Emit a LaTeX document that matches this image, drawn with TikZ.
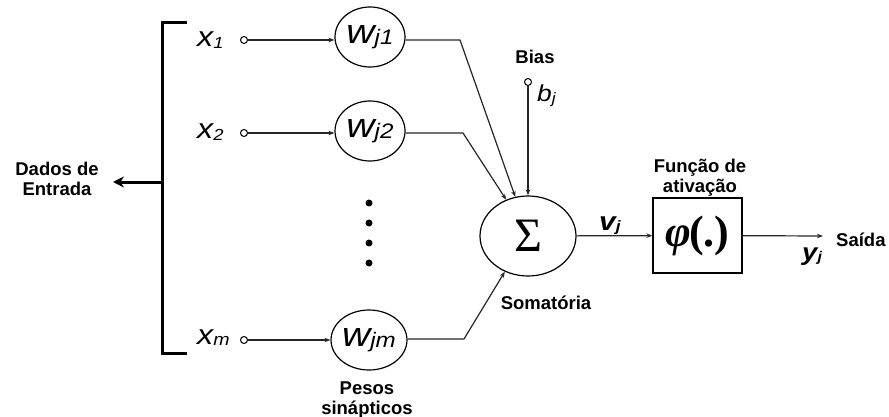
\documentclass[tikz,border=0pt]{standalone}
\usepackage{fontspec}
\setmainfont{Liberation Sans}
\newfontfamily\labfont[FakeStretch=1.15]{Liberation Sans}
\newfontfamily\serfont{Liberation Serif}
\usetikzlibrary{shapes.geometric,arrows.meta}
% main letter, subscript, main size, sub size
\newcommand\lbl[4]{{\fontsize{#3}{#3}\selectfont #1}\raisebox{-0.12em}{\fontsize{#4}{#4}\selectfont #2}}
\begin{document}
\begin{tikzpicture}[x=1pt,y=-1pt,
  thinl/.style={line width=1.2pt,draw=black!85},
  arr/.style={thinl,-{Stealth[length=6pt,width=4.5pt]}},
  wnode/.style={ellipse,draw,line width=1.2pt,minimum width=70pt,minimum height=60pt,inner sep=0pt,font=\labfont\itshape},
  pinc/.style={circle,draw,line width=1pt,minimum size=7pt,inner sep=0pt},
  xlab/.style={font=\labfont\itshape,inner sep=0pt},
  blab/.style={font=\fontsize{18.5}{20}\selectfont\bfseries,align=center,inner sep=0pt},
  dot/.style={circle,fill=black,minimum size=7pt,inner sep=0pt}]
\useasboundingbox (0,0) rectangle (889,417);
% bracket
\draw[line width=3pt] (187,23) -- (162,23) -- (162,353) -- (187,353);
\coordinate (bm) at (162,182);
\node[blab,anchor=base] (dados) at (57,195) {Dados de\\Entrada};
\coordinate (btip) at (113,182);
\draw[line width=3pt,-{Stealth[length=11pt,width=11pt]}] (bm) -- (btip);
% inputs
\node[xlab,anchor=base west] (x1) at (197,47) {\lbl{x}{1}{28}{16}};
\node[xlab,anchor=base west] (x2) at (197,139) {\lbl{x}{2}{28}{16}};
\node[xlab,anchor=base west] (xm) at (197,344) {\lbl{x}{m}{28}{17}};
\node[pinc] (c1) at (244,40) {};
\node[pinc] (c2) at (244,133) {};
\node[pinc] (cm) at (244,340) {};
\node[wnode] (w1) at (370,37) {\lbl{w}{j1}{34}{21}};
\node[wnode] (w2) at (370,131) {\lbl{w}{j2}{34}{21}};
\node[wnode] (wm) at (369,340) {\lbl{w}{jm}{34}{21}};
\draw[arr] (c1) -- (w1.west |- c1);
\draw[arr] (c2) -- (w2.west |- c2);
\draw[arr] (cm) -- (wm);
% dots
\node[dot] (d1) at (369,203) {};
\node[dot] (d2) at (369,223) {};
\node[dot] (d3) at (369,243) {};
\node[dot] (d4) at (369,263) {};
\node[blab,anchor=base] (pesos) at (367,414) {Pesos\\sinápticos};
% summation
\node[ellipse,draw,line width=1.2pt,minimum width=96pt,minimum height=80pt,inner sep=0pt] (sig) at (528,236) {\serfont\fontsize{48}{48}\selectfont Σ};
\coordinate (k1) at (460,40);
\coordinate (k2) at (463,133);
\coordinate (km) at (464,339);
\draw[arr] (w1.east |- k1) -- (k1) -- (sig.108);
\draw[arr] (w2.east |- k2) -- (k2) -- (sig.121);
\draw[arr] (wm.east |- km) -- (km) -- (sig.237);
% bias
\node[pinc] (bc) at (528,82) {};
\node[blab,anchor=base] (bias) at (535,64) {Bias};
\node[xlab,anchor=base west] (bj) at (537,102) {\lbl{b}{j}{23}{15}};
\draw[arr] (bc) -- (sig.90);
\node[blab,anchor=base] (soma) at (546,309) {Somatória};
% activation
\node[draw,line width=1.2pt,minimum width=89pt,minimum height=75pt,inner sep=0pt] (phi) at (697.5,235.5) {\serfont\fontsize{44}{44}\selectfont\bfseries\itshape φ\hspace{-0.05em}\upshape(.)};
\draw[arr] (sig) -- (phi);
\node[xlab,anchor=base west,font=\labfont\bfseries\itshape] (vj) at (599,230) {\lbl{v}{j}{26}{15}};
\node[blab,anchor=base] (func) at (700,192) {Função de\\ativação};
\coordinate (out) at (823,236);
\draw[arr] (phi) -- (out);
\node[blab,anchor=base west] (saida) at (836,246) {Saída};
\node[xlab,anchor=base west,font=\labfont\bfseries\itshape] (yj) at (802,260) {\lbl{y}{j}{24}{14}};
\end{tikzpicture}
\end{document}
